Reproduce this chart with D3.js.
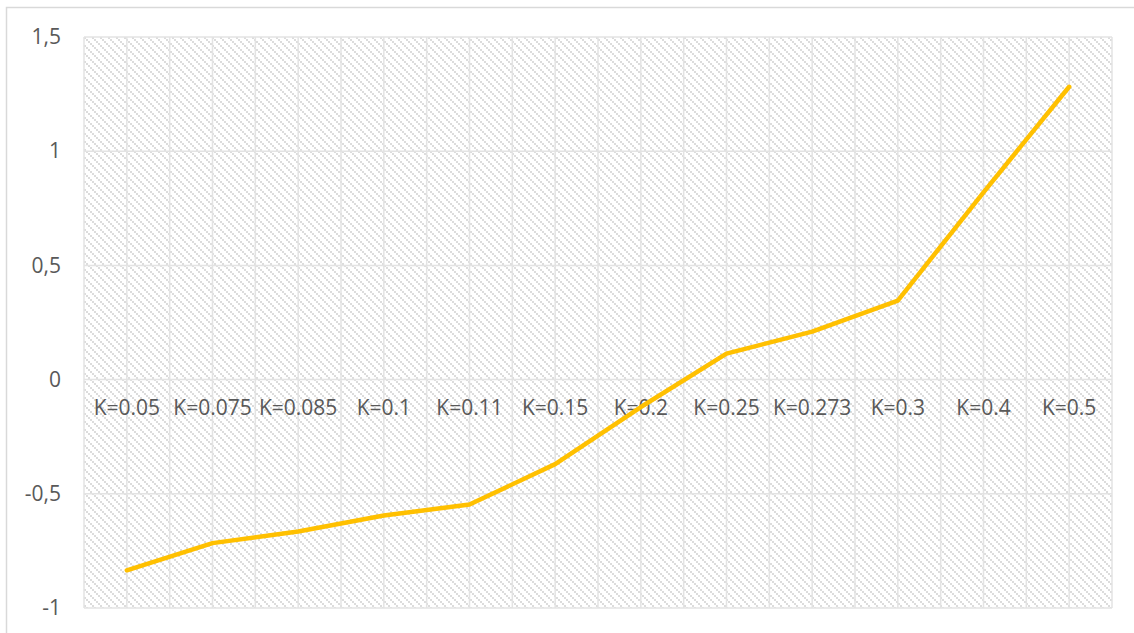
<!DOCTYPE html>
<html>
<head>
<meta charset="utf-8">
<script src="https://cdn.jsdelivr.net/npm/d3@7/dist/d3.min.js"></script>
<style>
  html, body { margin: 0; padding: 0; background: #fff; }
  svg { display: block; }
  text { font-family: "Open Sans", "DejaVu Sans", sans-serif; fill: #595959; }
</style>
</head>
<body>
<svg id="chart" width="1134" height="633"></svg>
<script>
// Category labels along the horizontal axis
const categories = ["K=0.05", "K=0.075", "K=0.085", "K=0.1", "K=0.11", "K=0.15",
                    "K=0.2", "K=0.25", "K=0.273", "K=0.3", "K=0.4", "K=0.5"];
// Series values, one per category
const values = [-0.835, -0.716, -0.665, -0.595, -0.547, -0.37,
                -0.12, 0.114, 0.21, 0.346, 0.82, 1.282];
// Value axis ticks and their labels (decimal comma)
const yTicks = [-1, -0.5, 0, 0.5, 1, 1.5];
const yTickLabels = ["-1", "-0,5", "0", "0,5", "1", "1,5"];

const W = 1134, H = 633;
const plot = { left: 84, right: 1112, top: 37, bottom: 608 };

const svg = d3.select("#chart");

// Light diagonal hatch fill for the plot area
const defs = svg.append("defs");
const pat = defs.append("pattern")
  .attr("id", "hatch")
  .attr("patternUnits", "userSpaceOnUse")
  .attr("x", plot.left).attr("y", plot.top)
  .attr("width", 8).attr("height", 8);
pat.append("rect").attr("width", 8).attr("height", 8).attr("fill", "#ffffff");
[[0, 0], [2, 2], [4, 4], [6, 6]].forEach(([px, py]) => {
  pat.append("rect").attr("x", px).attr("y", py)
    .attr("width", 2).attr("height", 2).attr("fill", "#dcdcdc");
});

// Chart outer border
svg.append("rect")
  .attr("x", 6.5).attr("y", 7.5)
  .attr("width", W + 20).attr("height", H + 20)
  .attr("fill", "#ffffff")
  .attr("stroke", "#d9d9d9").attr("stroke-width", 1.5);

const x = d3.scaleBand().domain(categories).range([plot.left, plot.right]).padding(0);
const y = d3.scaleLinear().domain([-1, 1.5]).range([plot.bottom, plot.top]);

// Plot background
svg.append("rect")
  .attr("x", plot.left).attr("y", plot.top)
  .attr("width", plot.right - plot.left).attr("height", plot.bottom - plot.top)
  .attr("fill", "url(#hatch)");

// Vertical gridlines at each category boundary and centre
const half = x.bandwidth() / 2;
const vLines = d3.range(categories.length * 2 + 1).map(i => plot.left + i * half);
svg.append("g").selectAll("line").data(vLines).join("line")
  .attr("x1", d => d).attr("x2", d => d)
  .attr("y1", plot.top).attr("y2", plot.bottom)
  .attr("stroke", "#e3e3e3").attr("stroke-width", 1.5);

// Horizontal gridlines
svg.append("g").selectAll("line").data(yTicks).join("line")
  .attr("x1", plot.left).attr("x2", plot.right)
  .attr("y1", d => y(d)).attr("y2", d => y(d))
  .attr("stroke", "#e3e3e3").attr("stroke-width", 1.5);

// Value axis labels
const yAxis = d3.axisLeft(y).tickValues(yTicks)
  .tickFormat((d, i) => yTickLabels[i]).tickSize(0).tickPadding(0);
const gy = svg.append("g").attr("transform", `translate(61,0)`).call(yAxis);
gy.select(".domain").remove();
gy.selectAll("text")
  .attr("font-size", 21).attr("fill", "#595959")
  .style("font-family", '"Open Sans", sans-serif');

// Category labels sit just below the zero line
const xAxis = d3.axisBottom(x).tickSize(0).tickPadding(0);
const gx = svg.append("g").attr("transform", `translate(0,${y(0) + 20})`).call(xAxis);
gx.select(".domain").remove();
gx.selectAll("text")
  .attr("font-size", 21).attr("fill", "#595959")
  .style("font-family", '"Open Sans", sans-serif');

// Series line
const line = d3.line()
  .x((d, i) => x(categories[i]) + half)
  .y(d => y(d));
svg.append("path")
  .datum(values)
  .attr("d", line)
  .attr("fill", "none")
  .attr("stroke", "#ffc000")
  .attr("stroke-width", 4.5)
  .attr("stroke-linejoin", "round")
  .attr("stroke-linecap", "round");
</script>
</body>
</html>
